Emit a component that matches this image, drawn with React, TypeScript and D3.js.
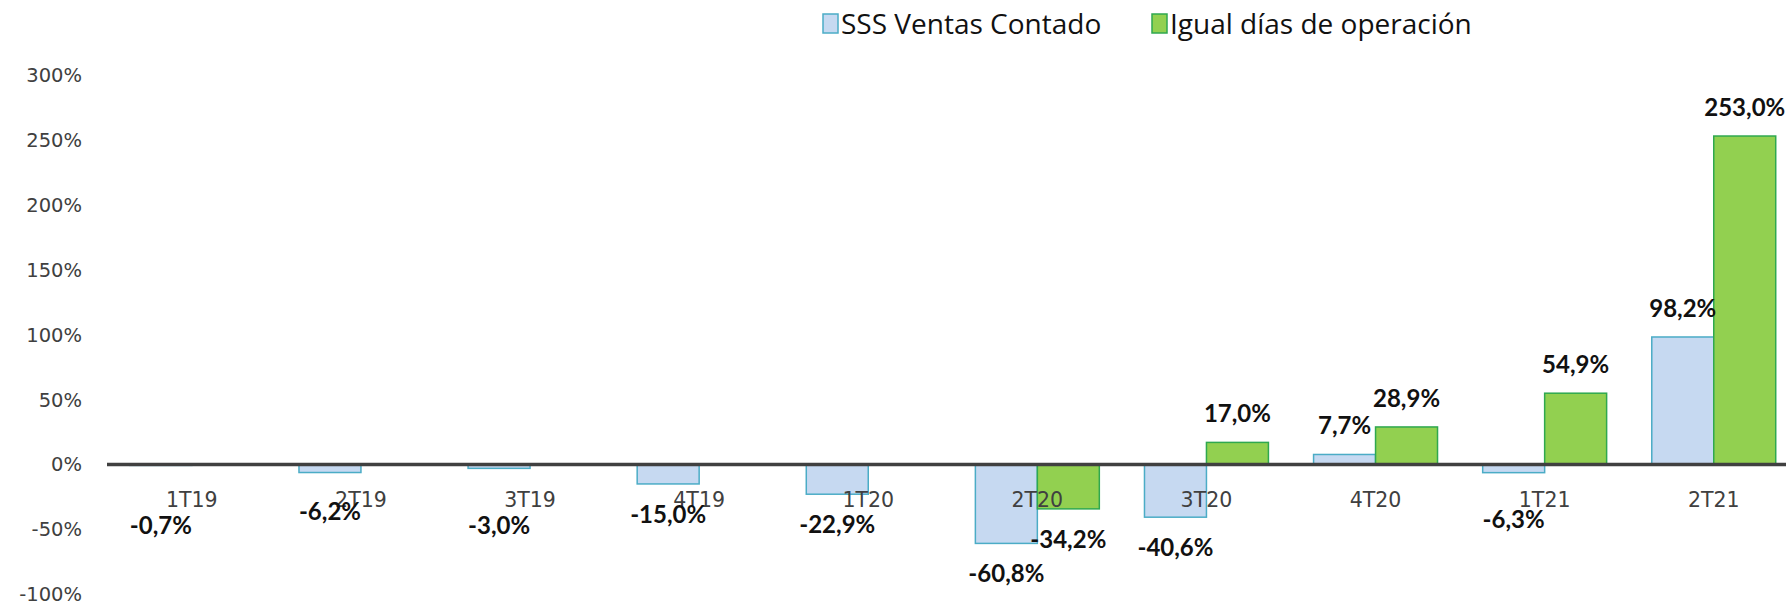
import React from "react";
import * as d3 from "d3";

const categories = ["1T19", "2T19", "3T19", "4T19", "1T20", "2T20", "3T20", "4T20", "1T21", "2T21"];
const sssVentas: (number | null)[] = [-0.7, -6.2, -3.0, -15.0, -22.9, -60.8, -40.6, 7.7, -6.3, 98.2];
const igualDias: (number | null)[] = [null, null, null, null, null, -34.2, 17.0, 28.9, 54.9, 253.0];
const seriesNames = ["SSS Ventas Contado", "Igual días de operación"];
const yTicks = [-100, -50, 0, 50, 100, 150, 200, 250, 300];

// extra downward push (px) for a few negative labels that sit lower in the reference
const blueLabelPush = [30, 8.5, 27, 0, 0, 0, 0, 0, 16, 0];

const W = 1786;
const H = 604;
const AXIS_FONT = "'DejaVu Sans', Verdana, sans-serif";
const LEGEND_FONT = "'Open Sans', 'Noto Sans', sans-serif";
const BOLD_FONT = "Lato, 'Noto Sans', sans-serif";

export default function App() {
  const x = d3.scaleBand<string>().domain(categories).range([107.3, 1798.3]).paddingInner(0.267).paddingOuter(0.1335);
  const xs = d3.scaleBand<number>().domain([0, 1]).range([0, x.bandwidth()]);
  const y = d3.scaleLinear().domain([-100, 300]).range([594.3, 75]);
  const y0 = y(0);

  const fills = ["#c6d9f1", "#92d050"];
  const strokes = ["#4bacc6", "#2fa84f"];
  const series = [sssVentas, igualDias];
  const fmt = (v: number) => v.toFixed(1).replace(".", ",") + "%";

  return (
    <svg width={W} height={H} style={{ position: "absolute", left: 0, top: 0, background: "#fff" }}>
      {/* legend */}
      <g fontFamily={LEGEND_FONT}>
        <rect x={823} y={14} width={15} height={19} fill={fills[0]} stroke={strokes[0]} strokeWidth={1.5} />
        <text x={841} y={34} fontSize={28} fill="#111">{seriesNames[0]}</text>
        <rect x={1152} y={14} width={15} height={19} fill={fills[1]} stroke={strokes[1]} strokeWidth={1.5} />
        <text x={1170} y={34} fontSize={28} fill="#111">{seriesNames[1]}</text>
      </g>
      {/* y tick labels */}
      {yTicks.map((t) => (
        <text key={t} x={82} y={y(t)} dy="0.36em" textAnchor="end" fontSize={19.5} fill="#404040" fontFamily={AXIS_FONT}>
          {t + "%"}
        </text>
      ))}
      {/* bars */}
      {series.map((s, si) =>
        s.map((v, i) => {
          if (v == null) return null;
          const bx = (x(categories[i]) as number) + (xs(si) as number);
          return (
            <rect
              key={si + "-" + i}
              x={bx}
              y={Math.min(y(v), y0)}
              width={xs.bandwidth()}
              height={Math.abs(y(v) - y0)}
              fill={fills[si]}
              stroke={strokes[si]}
              strokeWidth={1.5}
            />
          );
        })
      )}
      {/* zero axis */}
      <line x1={107} x2={W} y1={y0} y2={y0} stroke="#404040" strokeWidth={3.5} />
      {/* category labels */}
      {categories.map((c) => (
        <text key={c} x={(x(c) as number) + x.bandwidth() / 2} y={507} textAnchor="middle" fontSize={20.5} fill="#404040" fontFamily={AXIS_FONT}>
          {c}
        </text>
      ))}
      {/* data labels */}
      {series.map((s, si) =>
        s.map((v, i) => {
          if (v == null) return null;
          const cx = (x(categories[i]) as number) + (xs(si) as number) + xs.bandwidth() / 2;
          const push = si === 0 ? blueLabelPush[i] : 0;
          const ly = v >= 0 ? y(v) - 20 : y(v) + 39 + push;
          return (
            <text key={"l" + si + "-" + i} x={cx} y={ly} textAnchor="middle" fontSize={24} fontWeight="bold" fill="#111" fontFamily={BOLD_FONT}>
              {fmt(v)}
            </text>
          );
        })
      )}
    </svg>
  );
}
